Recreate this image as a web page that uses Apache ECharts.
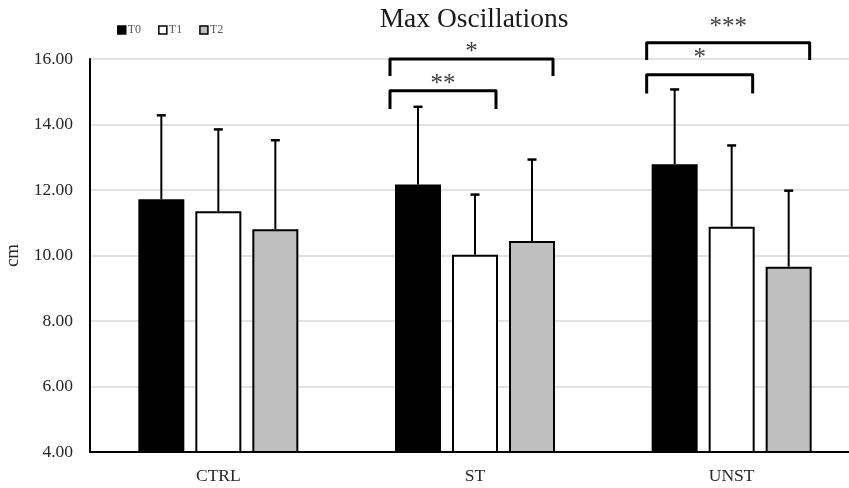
<!DOCTYPE html>
<html>
<head>
<meta charset="utf-8">
<script src="https://cdn.jsdelivr.net/npm/echarts@6/dist/echarts.min.js"></script>
<style>html,body{margin:0;padding:0;background:#fff;}#c{width:849px;height:488px;}</style>
</head>
<body>
<div id="c"></div>
<script>
var categories = ['CTRL', 'ST', 'UNST'];
var seriesNames = ['T0', 'T1', 'T2'];
var meanT0 = [11.72, 12.17, 12.79];
var meanT1 = [11.35, 10.02, 10.88];
var meanT2 = [10.80, 10.44, 9.66];
var upperT0 = [14.28, 14.54, 15.07];
var upperT1 = [13.85, 11.86, 13.36];
var upperT2 = [13.52, 12.93, 11.98];
var yTicks = [4, 6, 8, 10, 12, 14, 16];
// significance brackets: [categoryIndex, fromSeries, toSeries, topValue, legValue, labelValue, label]
var brackets = [
  [1, 0, 2, 16.00, 15.48, 16.34, '*'],
  [1, 0, 1, 15.03, 14.47, 15.39, '**'],
  [2, 0, 2, 16.50, 15.97, 17.11, '***'],
  [2, 0, 1, 15.52, 14.95, 16.17, '*']
];

var means = [meanT0, meanT1, meanT2];
var uppers = [upperT0, upperT1, upperT2];
var colors = ['#000000', '#ffffff', '#bfbfbf'];
var BAR_W = 46, GAP = 11;
var PITCH = BAR_W + GAP;
var STAR_SHIFT = 5;
var FONT = '"Liberation Serif", "Times New Roman", serif';

var series = [];
seriesNames.forEach(function (name, i) {
  series.push({
    name: name, type: 'bar', data: means[i], barWidth: BAR_W, barGap: (GAP / BAR_W * 100) + '%',
    itemStyle: { color: colors[i], borderColor: '#000', borderWidth: 2 },
    z: 2
  });
});
seriesNames.forEach(function (name, i) {
  series.push({
    type: 'custom', z: 3, silent: true,
    data: categories.map(function (c, k) { return [k, means[i][k], uppers[i][k]]; }),
    encode: { x: 0, y: 2 },
    renderItem: function (params, api) {
      var base = api.coord([api.value(0), api.value(1)]);
      var top = api.coord([api.value(0), api.value(2)]);
      var x = base[0] + (i - 1) * PITCH;
      var st = { stroke: '#000', lineWidth: 2 };
      return { type: 'group', children: [
        { type: 'line', shape: { x1: x, y1: base[1], x2: x, y2: top[1] }, style: st },
        { type: 'line', shape: { x1: x - 4.5, y1: top[1], x2: x + 4.5, y2: top[1] }, style: { stroke: '#000', lineWidth: 2.5 } }
      ]};
    }
  });
});
series.push({
  type: 'custom', z: 4, silent: true, clip: false,
  data: brackets,
  encode: { x: 0, y: 3 },
  renderItem: function (params, api) {
    var cat = api.value(0);
    var c = api.coord([cat, api.value(3)]);
    var yTop = c[1];
    var yLeg = api.coord([cat, api.value(4)])[1];
    var yLab = api.coord([cat, api.value(5)])[1];
    var x0 = c[0] + (api.value(1) - 1) * PITCH - BAR_W / 2 - 5;
    var x1 = c[0] + (api.value(2) - 1) * PITCH + BAR_W / 2 - 2;
    var lab = brackets[params.dataIndex][6];
    return { type: 'group', children: [
      { type: 'polyline', shape: { points: [[x0, yLeg], [x0, yTop], [x1, yTop], [x1, yLeg]] },
        style: { stroke: '#000', lineWidth: 3, fill: null, lineJoin: 'round' } },
      { type: 'text', x: (x0 + x1) / 2, y: yLab + STAR_SHIFT,
        style: { text: lab, fill: '#404040', font: '25px ' + FONT, align: 'center', verticalAlign: 'middle' } }
    ]};
  }
});

var chart = echarts.init(document.getElementById('c'), null, { renderer: 'canvas' });
chart.setOption({
  animation: false,
  backgroundColor: '#fff',
  title: { text: 'Max Oscillations', left: 469, textAlign: 'center', top: 1,
    textStyle: { fontFamily: FONT, fontSize: 27.5, fontWeight: 'normal', color: '#1a1a1a' } },
  legend: { data: seriesNames, left: 117, top: 24, padding: 0, itemWidth: 8, itemHeight: 8, itemGap: 17,
    icon: 'rect',
    itemStyle: { borderColor: '#000', borderWidth: 1.5 },
    textStyle: { fontFamily: FONT, fontSize: 12, color: '#595959', padding: [0, 0, 0, -3] } },
  grid: { left: 90, top: 59, width: 770, height: 393, outerBoundsMode: 'none', containLabel: false },
  xAxis: { type: 'category', data: categories,
    axisLine: { lineStyle: { color: '#000', width: 2 } }, axisTick: { show: false },
    axisLabel: { fontFamily: FONT, fontSize: 17.5, color: '#262626', margin: 15 } },
  yAxis: { type: 'value', min: yTicks[0], max: yTicks[yTicks.length - 1], interval: 2,
    name: 'cm', nameLocation: 'middle', nameGap: 62, nameRotate: 90,
    nameTextStyle: { fontFamily: FONT, fontSize: 19, color: '#262626' },
    axisLine: { show: true, lineStyle: { color: '#000', width: 2 } }, axisTick: { show: false },
    axisLabel: { fontFamily: FONT, fontSize: 17.5, color: '#262626', margin: 17,
      formatter: function (v) { return v.toFixed(2); } },
    splitLine: { lineStyle: { color: '#d9d9d9', width: 1.5 } } },
  series: series
});
</script>
</body>
</html>
